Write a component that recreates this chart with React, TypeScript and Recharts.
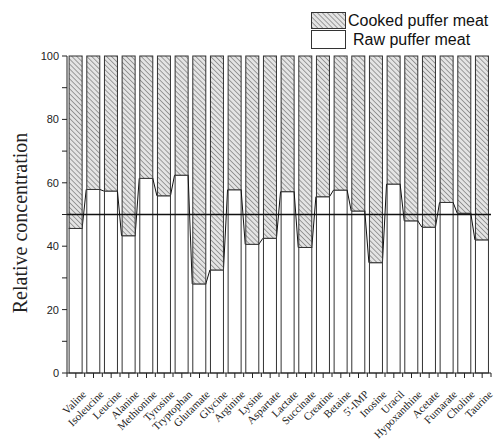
import React from 'react';
import { BarChart, Bar, XAxis, YAxis, ReferenceLine } from 'recharts';

const CATEGORIES = [
  'Valine', 'Isoleucine', 'Leucine', 'Alanine', 'Methionine', 'Tyrosine',
  'Tryptophan', 'Glutamate', 'Glycine', 'Arginine', 'Lysine', 'Aspartate',
  'Lactate', 'Succinate', 'Creatine', 'Betaine', "5'-IMP", 'Inosine',
  'Uracil', 'Hypoxanthine', 'Acetate', 'Fumarate', 'Choline', 'Taurine',
];

// raw share (%) of each metabolite, cooked is the rest up to 100
const RAW = [
  45.6, 57.9, 57.4, 43.3, 61.4, 55.9, 62.4, 28.1, 32.5, 57.8, 40.6, 42.5,
  57.2, 39.6, 55.6, 57.7, 51.1, 34.8, 59.6, 48.0, 46.0, 53.8, 50.4, 42.0,
];

const Y_TICKS = [0, 10, 20, 30, 40, 50, 60, 70, 80, 90, 100];

const data = CATEGORIES.map((name, i) => ({
  name,
  raw: RAW[i],
  cooked: +(100 - RAW[i]).toFixed(1),
}));

const GAP = 0.12;
const CAT_W = 424 / CATEGORIES.length;
const SERIF = '"Liberation Serif", "Times New Roman", serif';
const SANS = '"Liberation Sans", Arial, sans-serif';

// white bar + origin style connect line to the next bar's top
const RawShape = (props: any) => {
  const { x, y, width, height, index } = props;
  const bottom = y + height;
  const perUnit = height / RAW[index];
  const cat = width / (1 - 2 * GAP);
  const next = RAW[index + 1];
  return (
    <g>
      <rect x={x} y={y} width={width} height={height} fill="#fff" stroke="#333" strokeWidth={1} />
      {next !== undefined && (
        <line
          x1={x + width}
          y1={y}
          x2={x + width + 2 * GAP * cat}
          y2={bottom - next * perUnit}
          stroke="#111"
          strokeWidth={1}
        />
      )}
    </g>
  );
};

const CookedShape = (props: any) => {
  const { x, y, width, height } = props;
  return <rect x={x} y={y} width={width} height={height} fill="url(#hatch)" stroke="#333" strokeWidth={1} />;
};

const XTick = ({ x, y, payload, index }: any) => {
  const axisY = y - 7;
  const last = index === CATEGORIES.length - 1;
  return (
    <g>
      <line x1={x - CAT_W / 2} y1={axisY} x2={x - CAT_W / 2} y2={axisY + 4} stroke="#222" />
      {last && <line x1={x + CAT_W / 2} y1={axisY} x2={x + CAT_W / 2} y2={axisY + 4} stroke="#222" />}
      <text
        x={x + 11}
        y={y + 15}
        transform={`rotate(-45 ${x + 11} ${y + 15})`}
        textAnchor="end"
        fontFamily={SERIF}
        fontSize={11}
        fill="#222"
      >
        {payload.value}
      </text>
    </g>
  );
};

const YTick = ({ x, y, payload }: any) =>
  payload.value % 20 === 0 ? (
    <text x={x} y={y} dy={4} textAnchor="end" fontFamily={SANS} fontSize={11} fill="#222">
      {payload.value}
    </text>
  ) : null;

const Hatch = ({ id }: { id: string }) => (
  <defs>
    <pattern id={id} width={3.5} height={3.5} patternUnits="userSpaceOnUse" patternTransform="rotate(-45)">
      <rect width={3.5} height={3.5} fill="#e4e4e4" />
      <line x1={0} y1={0} x2={0} y2={3.5} stroke="#7a7a7a" strokeWidth={1.4} />
    </pattern>
  </defs>
);

export default function App() {
  return (
    <div style={{ position: 'absolute', left: 0, top: 0, width: 497, height: 440, background: '#fff' }}>
      <BarChart
        width={497}
        height={440}
        data={data}
        margin={{ top: 56, right: 6, left: 0, bottom: 0 }}
        barCategoryGap={`${GAP * 100}%`}
      >
        <Hatch id="hatch" />
        <XAxis
          dataKey="name"
          height={67}
          interval={0}
          tick={<XTick />}
          tickSize={5}
          tickMargin={2}
          axisLine={{ stroke: '#222' }}
          tickLine={{ stroke: '#222' }}
        />
        <YAxis
          width={67}
          domain={[0, 100]}
          ticks={Y_TICKS}
          interval={0}
          tick={<YTick />}
          tickSize={5}
          tickMargin={3}
          axisLine={{ stroke: '#222' }}
          tickLine={{ stroke: '#222' }}
          label={{
            content: () => (
              <text
                x={27}
                y={223}
                transform="rotate(-90 27 223)"
                textAnchor="middle"
                fontFamily={SERIF}
                fontSize={20}
                fill="#222"
              >
                Relative concentration
              </text>
            ),
          }}
        />
        <Bar dataKey="raw" stackId="a" shape={<RawShape />} isAnimationActive={false} />
        <Bar dataKey="cooked" stackId="a" shape={<CookedShape />} isAnimationActive={false} />
        <ReferenceLine y={50} stroke="#111" strokeWidth={1.5} />
      </BarChart>
      <div style={{ position: 'absolute', left: 311, top: 11, fontFamily: SANS, fontSize: 16, color: '#111', lineHeight: '19px' }}>
        <div style={{ display: 'flex', alignItems: 'center', height: 19 }}>
          <svg width={36} height={18}>
            <Hatch id="hatch-legend" />
            <rect x={0.5} y={0.5} width={34} height={16} fill="url(#hatch-legend)" stroke="#333" />
          </svg>
          <span style={{ marginLeft: 1 }}>Cooked puffer meat</span>
        </div>
        <div style={{ display: 'flex', alignItems: 'center', height: 19 }}>
          <svg width={36} height={19}>
            <rect x={0.5} y={0.5} width={34} height={18} fill="#fff" stroke="#333" />
          </svg>
          <span style={{ marginLeft: 6 }}>Raw puffer meat</span>
        </div>
      </div>
    </div>
  );
}
